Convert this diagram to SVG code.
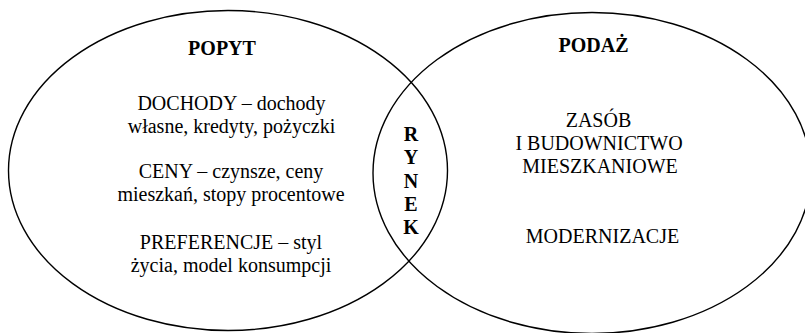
<svg xmlns="http://www.w3.org/2000/svg" width="805" height="333" viewBox="0 0 805 333">
<style>
.shape{fill:none;stroke:#000;stroke-width:1.4}
text{font-family:'Liberation Serif',Tinos,'Times New Roman',Times,'DejaVu Serif',serif;font-size:20px;fill:#000;text-anchor:middle}
.b{font-weight:bold}
</style>
<rect width="805" height="333" fill="#fff"/>
<g id="popyt">
<ellipse class="shape" cx="228" cy="170.5" rx="219.5" ry="160"/>
<text class="b" x="222" y="55">POPYT</text>
<text x="231.5" y="110">DOCHODY – dochody</text>
<text x="231.5" y="133">własne, kredyty, pożyczki</text>
<text x="231" y="178">CENY – czynsze, ceny</text>
<text x="231" y="201">mieszkań, stopy procentowe</text>
<text x="231" y="249">PREFERENCJE – styl</text>
<text x="231" y="272">życia, model konsumpcji</text>
</g>
<g id="podaz">
<ellipse class="shape" cx="592" cy="173" rx="219" ry="160.5"/>
<text class="b" x="593.5" y="52">PODAŻ</text>
<text x="598.5" y="127">ZASÓB</text>
<text x="599" y="150">I BUDOWNICTWO</text>
<text x="600" y="173">MIESZKANIOWE</text>
<text x="602.5" y="243">MODERNIZACJE</text>
</g>
<g id="rynek">
<text class="b" x="411" y="141">R</text>
<text class="b" x="411" y="164">Y</text>
<text class="b" x="411" y="188">N</text>
<text class="b" x="411" y="211">E</text>
<text class="b" x="411" y="234">K</text>
</g>
<g id="connectors"/>
</svg>
